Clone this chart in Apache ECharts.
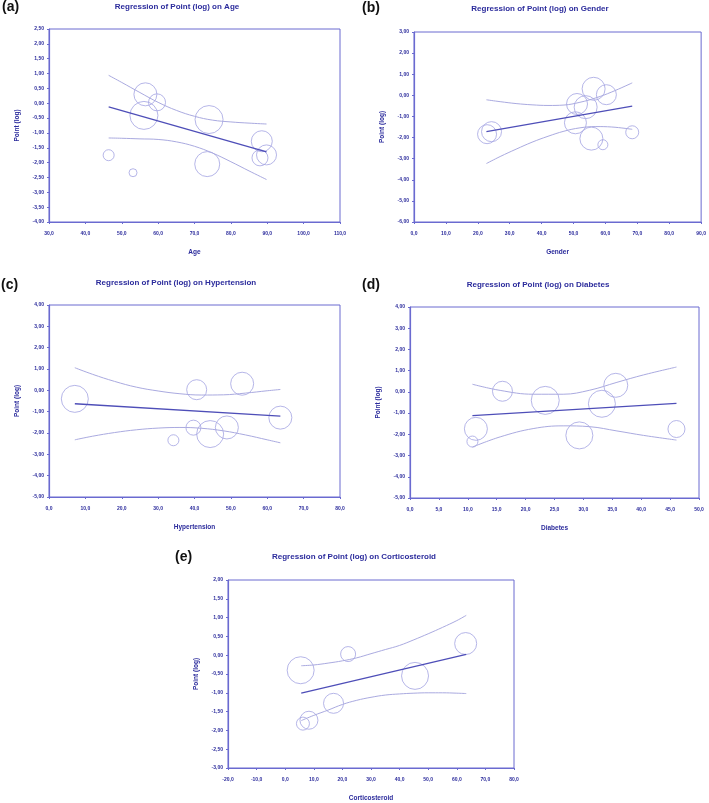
<!DOCTYPE html>
<html>
<head>
<meta charset="utf-8">
<script src="https://cdn.jsdelivr.net/npm/echarts@6/dist/echarts.min.js"></script>
<style>
html,body{margin:0;padding:0;background:#fff;}
#chart{width:709px;height:803px;}
</style>
</head>
<body>
<div id="chart"></div>
<script>
// ---------- DATA ----------
// (a) Age
var ageX = [56.5, 59.7, 56.1, 74.0, 73.5, 88.5, 88.0, 89.8, 46.4, 53.1];
var ageY = [0.30, 0.03, -0.41, -0.55, -2.05, -1.28, -1.84, -1.74, -1.75, -2.34];
var ageW = [23, 17, 28, 28, 25, 21, 16, 20, 11, 8];
var ageFitX = [46.4, 89.8];
var ageFitY = [-0.12, -1.64];
var ageCiX = [46.4, 50, 55, 60, 65, 70, 75, 80, 85, 89.8];
var ageCiUpper = [0.94, 0.70, 0.36, 0.03, -0.24, -0.44, -0.57, -0.63, -0.67, -0.70];
var ageCiLower = [-1.17, -1.18, -1.20, -1.22, -1.30, -1.45, -1.68, -1.97, -2.28, -2.57];
var ageXAxis = [30, 110, 10];
var ageYAxis = [-4, 2.5, 0.5];

// (b) Gender
var genX = [22.9, 24.3, 56.3, 60.3, 51.1, 53.8, 50.6, 55.6, 59.2, 68.4];
var genY = [-1.84, -1.72, 0.31, 0.03, -0.41, -0.56, -1.30, -2.05, -2.34, -1.75];
var genW = [19, 20, 23, 20, 21, 23, 22, 23, 10, 13];
var genFitX = [22.7, 68.4];
var genFitY = [-1.72, -0.51];
var genCiX = [22.7, 27, 32, 37, 42, 47, 52, 57, 62, 68.4];
var genCiUpper = [-0.21, -0.30, -0.39, -0.45, -0.48, -0.46, -0.33, -0.12, 0.16, 0.59];
var genCiLower = [-3.23, -2.90, -2.55, -2.22, -1.94, -1.70, -1.54, -1.48, -1.50, -1.61];
var genXAxis = [0, 90, 10];
var genYAxis = [-6, 3, 1];

// (c) Hypertension
var hypX = [7.1, 40.6, 53.1, 63.6, 39.7, 44.3, 48.9, 34.2];
var hypY = [-0.40, 0.03, 0.31, -1.28, -1.75, -2.05, -1.74, -2.34];
var hypW = [27, 20, 23, 23, 15, 27, 23, 11];
var hypFitX = [7.1, 63.6];
var hypFitY = [-0.63, -1.21];
var hypCiX = [7.1, 12, 18, 24, 30, 36, 42, 48, 54, 60, 63.6];
var hypCiUpper = [1.06, 0.75, 0.42, 0.15, -0.03, -0.16, -0.22, -0.21, -0.13, -0.02, 0.04];
var hypCiLower = [-2.32, -2.15, -1.98, -1.85, -1.77, -1.74, -1.78, -1.90, -2.09, -2.32, -2.46];
var hypXAxis = [0, 80, 10];
var hypYAxis = [-5, 4, 1];

// (d) Diabetes
var diaX = [16.0, 23.4, 33.2, 35.6, 11.4, 10.8, 29.3, 46.1];
var diaY = [0.03, -0.40, -0.56, 0.31, -1.74, -2.34, -2.05, -1.75];
var diaW = [20, 28, 27, 24, 23, 11, 27, 17];
var diaFitX = [10.8, 46.1];
var diaFitY = [-1.12, -0.54];
var diaCiX = [10.8, 15.6, 21.3, 26.5, 31.1, 35.8, 40.4, 46.1];
var diaCiUpper = [0.36, 0.07, -0.11, -0.11, 0.08, 0.45, 0.80, 1.17];
var diaCiLower = [-2.60, -2.12, -1.73, -1.60, -1.64, -1.84, -2.05, -2.27];
var diaXAxis = [0, 50, 5];
var diaYAxis = [-5, 4, 1];

// (e) Corticosteroid
var corX = [5.4, 22.0, 63.1, 45.4, 16.9, 8.3, 6.2];
var corY = [-0.40, 0.03, 0.31, -0.55, -1.28, -1.73, -1.82];
var corW = [27, 15, 22, 27, 20, 18, 13];
var corFitX = [5.6, 63.3];
var corFitY = [-1.01, 0.02];
var corCiX = [5.6, 10, 15, 20, 25, 30, 35, 40, 45, 50, 55, 60, 63.3];
var corCiUpper = [-0.28, -0.26, -0.21, -0.15, -0.07, 0.04, 0.15, 0.26, 0.41, 0.57, 0.74, 0.92, 1.06];
var corCiLower = [-1.74, -1.60, -1.46, -1.31, -1.20, -1.12, -1.06, -1.03, -1.01, -1.00, -1.00, -1.01, -1.02];
var corXAxis = [-20, 80, 10];
var corYAxis = [-3, 2, 0.5];

var panelLabels = ['(a)', '(b)', '(c)', '(d)', '(e)'];
var titles = ['Regression of Point (log) on Age', 'Regression of Point (log) on Gender',
  'Regression of Point (log) on Hypertension', 'Regression of Point (log) on Diabetes',
  'Regression of Point (log) on Corticosteroid'];
var xNames = ['Age', 'Gender', 'Hypertension', 'Diabetes', 'Corticosteroid'];
var yName = 'Point (log)';

// ---------- LAYOUT / STYLE ----------
var FONT = '"Liberation Sans", Arial, sans-serif';
var TXT = '#2b2b9c';
var AXIS = '#6a6ad0';
var CIRC = '#a4a4e2';
var FIT = '#4e4eb8';
var CI = '#aaaae0';

var panels = [
  {x: ageX, y: ageY, w: ageW, fx: ageFitX, fy: ageFitY, cx: ageCiX, cu: ageCiUpper, cl: ageCiLower, xa: ageXAxis, ya: ageYAxis,
   grid: {left: 49, top: 29, width: 291, height: 193}, title: [177, 7], lab: [2, 7]},
  {x: genX, y: genY, w: genW, fx: genFitX, fy: genFitY, cx: genCiX, cu: genCiUpper, cl: genCiLower, xa: genXAxis, ya: genYAxis,
   grid: {left: 414, top: 32, width: 288, height: 190}, title: [540, 9], lab: [362, 8]},
  {x: hypX, y: hypY, w: hypW, fx: hypFitX, fy: hypFitY, cx: hypCiX, cu: hypCiUpper, cl: hypCiLower, xa: hypXAxis, ya: hypYAxis,
   grid: {left: 49, top: 305, width: 291, height: 192}, title: [176, 283], lab: [1, 285]},
  {x: diaX, y: diaY, w: diaW, fx: diaFitX, fy: diaFitY, cx: diaCiX, cu: diaCiUpper, cl: diaCiLower, xa: diaXAxis, ya: diaYAxis,
   grid: {left: 410, top: 307, width: 289, height: 191}, title: [538, 285], lab: [362, 285]},
  {x: corX, y: corY, w: corW, fx: corFitX, fy: corFitY, cx: corCiX, cu: corCiUpper, cl: corCiLower, xa: corXAxis, ya: corYAxis,
   grid: {left: 228, top: 580, width: 286, height: 189}, title: [354, 557], lab: [175, 557]}
];

function zip(a, b) { return a.map(function (v, i) { return [v, b[i]]; }); }
function fmt(v, d) { return v.toFixed(d).replace('.', ','); }

var grids = [], xAxes = [], yAxes = [], series = [], graphics = [];
panels.forEach(function (p, i) {
  grids.push(Object.assign({show: true, borderColor: AXIS, borderWidth: 1, backgroundColor: '#fff'}, p.grid));
  xAxes.push({
    type: 'value', gridIndex: i, min: p.xa[0], max: p.xa[1], interval: p.xa[2],
    name: xNames[i], nameLocation: 'middle', nameGap: 27,
    nameTextStyle: {fontFamily: FONT, fontSize: 6.5, fontWeight: 'bold', color: TXT},
    axisLine: {onZero: false, lineStyle: {color: AXIS, width: 1.2}},
    axisTick: {show: true, length: 2, lineStyle: {color: AXIS}},
    splitLine: {show: false},
    axisLabel: {fontFamily: FONT, fontSize: 5, fontWeight: 'bold', color: TXT, margin: 9,
      formatter: function (v) { return fmt(v, 1); }}
  });
  yAxes.push({
    type: 'value', gridIndex: i, min: p.ya[0], max: p.ya[1], interval: p.ya[2],
    name: yName, nameLocation: 'middle', nameGap: 28, nameRotate: 90,
    nameTextStyle: {fontFamily: FONT, fontSize: 6.5, fontWeight: 'bold', color: TXT},
    axisLine: {show: true, onZero: false, lineStyle: {color: AXIS, width: 1.2}},
    axisTick: {show: true, length: 2, lineStyle: {color: AXIS}},
    splitLine: {show: false},
    axisLabel: {fontFamily: FONT, fontSize: 5, fontWeight: 'bold', color: TXT, margin: 5,
      formatter: function (v) { return fmt(v, 2); }}
  });
  series.push({
    type: 'scatter', xAxisIndex: i, yAxisIndex: i, silent: true,
    data: p.x.map(function (v, k) { return [v, p.y[k], p.w[k]]; }),
    symbol: 'circle', symbolSize: function (d) { return d[2]; },
    itemStyle: {color: 'rgba(0,0,0,0)', borderColor: CIRC, borderWidth: 1}, z: 2
  });
  series.push({
    type: 'line', xAxisIndex: i, yAxisIndex: i, silent: true, showSymbol: false, smooth: 0.4,
    data: zip(p.cx, p.cu), lineStyle: {color: CI, width: 1}, z: 3
  });
  series.push({
    type: 'line', xAxisIndex: i, yAxisIndex: i, silent: true, showSymbol: false, smooth: 0.4,
    data: zip(p.cx, p.cl), lineStyle: {color: CI, width: 1}, z: 3
  });
  series.push({
    type: 'line', xAxisIndex: i, yAxisIndex: i, silent: true, showSymbol: false,
    data: zip(p.fx, p.fy), lineStyle: {color: FIT, width: 1.3}, z: 4
  });
  graphics.push({type: 'text', left: p.title[0], top: p.title[1], silent: true,
    style: {text: titles[i], x: p.title[0], y: p.title[1], textAlign: 'center', textVerticalAlign: 'middle',
      font: 'bold 8px ' + FONT, fill: TXT}});
  graphics.push({type: 'text', silent: true,
    style: {text: panelLabels[i], x: p.lab[0], y: p.lab[1], textAlign: 'left', textVerticalAlign: 'middle',
      font: 'bold 14px ' + FONT, fill: '#111'}});
});
// use explicit positions for title texts
graphics.forEach(function (g) { delete g.left; delete g.top; });

var chart = echarts.init(document.getElementById('chart'), null, {renderer: 'canvas'});
chart.setOption({
  animation: false,
  backgroundColor: '#fff',
  grid: grids, xAxis: xAxes, yAxis: yAxes, series: series, graphic: graphics
});
</script>
</body>
</html>
